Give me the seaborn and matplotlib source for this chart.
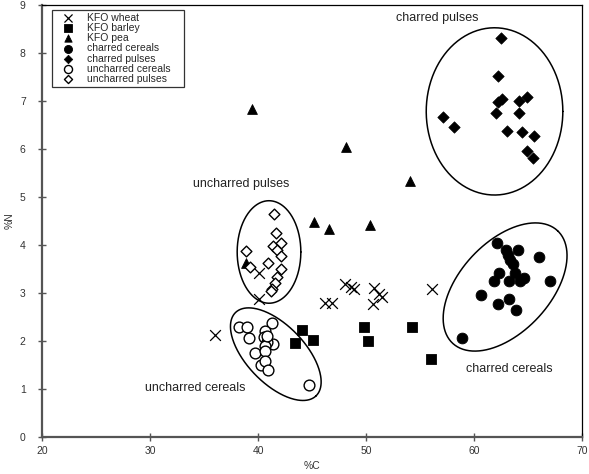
import numpy as np
import pandas as pd
import matplotlib
matplotlib.use("Agg")
import matplotlib.pyplot as plt
import seaborn as sns

# data (%C, %N)
wheat_c = [35.98, 40.08, 40.08, 48.0, 48.6, 48.85, 46.16, 46.87, 50.73, 51.2, 51.5, 50.6, 56.1]
wheat_n = [2.13, 3.42, 2.87, 3.19, 3.12, 3.08, 2.79, 2.79, 3.09, 2.97, 2.92, 2.76, 3.08]
barley_c = [44.07, 43.39, 45.08, 49.78, 50.18, 54.25, 55.98]
barley_n = [2.22, 1.96, 2.01, 2.29, 2.0, 2.29, 1.61]
pea_c = [39.43, 48.18, 54.07, 45.21, 46.57, 50.4, 38.85]
pea_n = [6.83, 6.04, 5.33, 4.48, 4.32, 4.41, 3.61]
ch_cer_c = [62.15, 62.93, 64.07, 63.14, 63.36, 63.6, 66.0, 62.35, 63.77, 61.88,
            63.21, 64.29, 64.6, 67.06, 60.61, 63.21, 62.21, 63.86, 58.88]
ch_cer_n = [4.04, 3.89, 3.89, 3.79, 3.68, 3.6, 3.74, 3.42, 3.42, 3.24,
            3.24, 3.24, 3.3, 3.24, 2.95, 2.86, 2.76, 2.65, 2.05]
ch_pul_c = [62.53, 62.25, 62.62, 62.21, 64.13, 64.9, 62.06, 64.13, 57.12, 58.11,
            63.05, 64.47, 65.58, 64.9, 65.45]
ch_pul_n = [8.3, 7.52, 7.04, 6.98, 6.99, 7.07, 6.74, 6.74, 6.67, 6.45,
            6.38, 6.35, 6.26, 5.95, 5.8]
un_cer_c = [38.2, 39.0, 39.1, 41.3, 40.6, 40.5, 41.4, 40.8, 40.6, 39.7,
            40.6, 40.3, 40.6, 40.9, 40.8, 44.7]
un_cer_n = [2.28, 2.28, 2.05, 2.36, 2.2, 2.08, 1.93, 1.98, 1.88, 1.74,
            1.79, 1.49, 1.58, 1.4, 2.1, 1.08]
un_pul_c = [41.44, 41.69, 41.38, 42.09, 41.75, 42.09, 38.91, 40.92, 39.22, 42.09,
            41.75, 41.54, 41.32, 41.14]
un_pul_n = [4.64, 4.24, 3.97, 4.03, 3.9, 3.76, 3.88, 3.63, 3.54, 3.49,
            3.32, 3.2, 3.08, 3.04]

# group ellipses: centre (%C, %N), semi-axes in %C units, angle (deg)
ellipses = {
    "uncharred pulses": (41.0, 3.85, 2.95, 4.75, 0),
    "charred pulses": (61.9, 6.78, 6.33, 7.75, 0),
    "uncharred cereals": (41.63, 1.72, 5.37, 2.69, -46),
    "charred cereals": (62.88, 3.12, 7.13, 4.17, 47),
}
group_labels = {
    "charred pulses": (56.6, 8.72),
    "uncharred pulses": (38.45, 5.26),
    "uncharred cereals": (34.2, 1.01),
    "charred cereals": (63.3, 1.42),
}

sns.set_style("white")
plt.rcParams['font.family'] = ['Liberation Sans', 'DejaVu Sans']

fig = plt.figure(figsize=(5.89, 4.74), dpi=100)
ax = fig.add_axes([0.072, 0.0787, 0.916, 0.911])

groups = [
    ("KFO wheat", wheat_c, wheat_n, dict(marker="x", s=60, color="black", linewidths=0.9)),
    ("KFO barley", barley_c, barley_n, dict(marker="s", s=55, color="black", edgecolor="black")),
    ("KFO pea", pea_c, pea_n, dict(marker="^", s=50, color="black", edgecolor="black")),
    ("charred cereals", ch_cer_c, ch_cer_n, dict(marker="o", s=60, color="black", edgecolor="black")),
    ("charred pulses", ch_pul_c, ch_pul_n, dict(marker="D", s=34, color="black", edgecolor="black")),
    ("uncharred cereals", un_cer_c, un_cer_n, dict(marker="o", s=60, facecolor="white", edgecolor="black", linewidth=1.0)),
    ("uncharred pulses", un_pul_c, un_pul_n, dict(marker="D", s=30, facecolor="white", edgecolor="black", linewidth=1.0)),
]
for name, xc, yn, kw in groups:
    df = pd.DataFrame({"C": xc, "N": yn})
    sns.scatterplot(data=df, x="C", y="N", ax=ax, label=name, zorder=3, **kw)

ax.set_xlim(20, 70)
ax.set_ylim(0, 9)

# aspect factor: display px per %N unit / px per %C unit
bbox = ax.get_window_extent()
r = (bbox.height / 9) / (bbox.width / 50)
t = np.linspace(0, 2 * np.pi, 300)
for name, (cx, cy, a, b, ang) in ellipses.items():
    th = np.deg2rad(ang)
    X = a * np.cos(t) * np.cos(th) - b * np.sin(t) * np.sin(th)
    Y = a * np.cos(t) * np.sin(th) + b * np.sin(t) * np.cos(th)
    ax.plot(cx + X, cy + Y / r, color="black", lw=1.1, zorder=2)

for name, (lx, ly) in group_labels.items():
    ax.text(lx, ly, name, ha="center", va="center", fontsize=9, color="#222222")

ax.set_xticks([20, 30, 40, 50, 60, 70])
ax.set_yticks(range(10))
ax.tick_params(axis="both", direction="inout", length=6, width=1, labelsize=7.5,
               colors="#555555", labelcolor="#333333", left=True, bottom=True)
ax.tick_params(axis="y", pad=9)
ax.set_xlabel("%C", fontsize=7.5, color="#333333", labelpad=4)
ax.set_ylabel("%N", fontsize=7.5, color="#333333", labelpad=4)
for side in ["left", "bottom"]:
    ax.spines[side].set_color("#555555")
    ax.spines[side].set_linewidth(1.6)
for side in ["top", "right"]:
    ax.spines[side].set_color("black")
    ax.spines[side].set_linewidth(0.9)

leg = ax.legend(loc="upper left", bbox_to_anchor=(0.018, 0.5, 0.2446, 0.488),
                mode="expand", fontsize=7.5, frameon=True, fancybox=False,
                edgecolor="black", borderpad=0.25, labelspacing=0.02,
                handletextpad=0.5, handlelength=2.6, borderaxespad=0,
                markerscale=0.75)
leg.get_frame().set_linewidth(0.9)

fig.savefig("out.png", dpi=100)
